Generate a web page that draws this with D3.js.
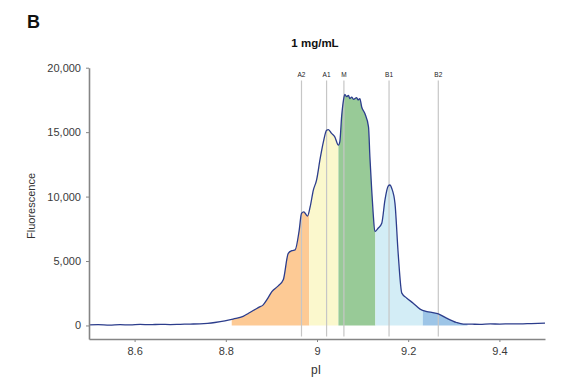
<!DOCTYPE html>
<html>
<head>
<meta charset="utf-8">
<script src="https://cdn.jsdelivr.net/npm/d3@7"></script>
<style>
  body { margin: 0; background: #fff; }
  svg text { font-family: "Liberation Sans", Arial, sans-serif; }
</style>
</head>
<body>
<div id="chart"></div>
<script>
'use strict';

// profile: pI and fluorescence
const pI = [
  8.500, 8.520, 8.545, 8.568, 8.590, 8.612, 8.634, 8.656, 8.678, 8.700,
  8.722, 8.743, 8.760, 8.776, 8.798, 8.816, 8.838, 8.850, 8.860, 8.872,
  8.882, 8.892, 8.901, 8.915, 8.926, 8.937, 8.945, 8.952, 8.961, 8.966,
  8.971, 8.979, 8.985, 8.992, 8.999, 9.007, 9.014, 9.021, 9.025, 9.032,
  9.039, 9.047, 9.050, 9.054, 9.058, 9.061, 9.065, 9.069, 9.072, 9.076,
  9.080, 9.087, 9.090, 9.094, 9.098, 9.105, 9.113, 9.116, 9.120, 9.123,
  9.127, 9.134, 9.142, 9.149, 9.156, 9.160, 9.164, 9.171, 9.178, 9.186,
  9.197, 9.211, 9.226, 9.241, 9.254, 9.266, 9.284, 9.306, 9.321, 9.340,
  9.357, 9.380, 9.401, 9.425, 9.445, 9.470, 9.500
];
const fluorescence = [
    40,   70,   30,   60,   40,   80,   60,   90,   70,   90,
   110,  130,  170,  230,  350,  495,  700,  950, 1160, 1400,
  1600, 2100, 2630, 3070, 3540, 5600, 5800, 5860, 7400, 8700,
  8820, 8490, 9210, 10500, 11280, 12960, 14240, 15150, 15200, 14900,
 14630, 13990, 14240, 16200, 17470, 17930, 17750, 17860, 17600, 17720,
 17550, 17680, 17500, 17600, 16950, 16440, 15400, 13080, 10500, 8800,
  7280, 7540, 7930, 9730, 10810, 10900, 10630, 9470, 5600, 2510,
  2120, 1730, 1270, 1080, 1000,  900,  570,  230,  110,  100,
    90,  120,  110,  130,  120,  150,  180
];

// fractions collected, as pI ranges
const fractions = [
  { from: 8.813, to: 8.983, color: '#fdca95' },
  { from: 8.983, to: 9.047, color: '#fbf8cd' },
  { from: 9.047, to: 9.128, color: '#98ca97' },
  { from: 9.128, to: 9.232, color: '#d3edf6' },
  { from: 9.232, to: 9.330, color: '#9dc5e7' }
];

const markerNames = ['A2', 'A1', 'M', 'B1', 'B2'];
const markerPI = [8.966, 9.021, 9.059, 9.158, 9.266];

const xTicks = [8.6, 8.8, 9, 9.2, 9.4];
const yTicks = [0, 5000, 10000, 15000, 20000];

function drawChart(elementID) {
  const width = 573;
  const height = 388;
  const left = 89;
  const right = 545;
  const top = 67.7;
  const bottom = 339;

  const data = pI.map((p, i) => [p, fluorescence[i]]);

  const scaleX = d3.scaleLinear()
    .domain([8.5, 9.5])
    .range([left, right]);

  const scaleY = d3.scaleLinear()
    .domain([-1050, 20000])
    .range([bottom, top]);

  const svg = d3.select('#' + elementID)
    .append('svg')
    .attr('width', width)
    .attr('height', height);

  // filled fractions under the curve
  const area = d3.area()
    .curve(d3.curveMonotoneX)
    .x(d => scaleX(d[0]))
    .y0(scaleY(0))
    .y1(d => scaleY(d[1]));

  const defs = svg.append('defs');
  fractions.forEach((f, i) => {
    defs.append('clipPath')
      .attr('id', 'frac' + i)
      .append('rect')
      .attr('x', scaleX(f.from))
      .attr('y', 0)
      .attr('width', scaleX(f.to) - scaleX(f.from))
      .attr('height', height);

    svg.append('path')
      .datum(data)
      .attr('d', area)
      .attr('fill', f.color)
      .attr('clip-path', `url(#frac${i})`);
  });

  // marker lines
  const markers = svg.append('g')
    .selectAll('g')
    .data(markerPI)
    .enter()
    .append('g')
    .attr('transform', d => `translate(${scaleX(d)}, 0)`);

  markers.append('line')
    .attr('y1', scaleY(19000))
    .attr('y2', scaleY(-850))
    .attr('stroke', '#c6c6c6')
    .attr('stroke-width', 1.2);

  markers.append('text')
    .attr('y', scaleY(19000) - 4)
    .attr('text-anchor', 'middle')
    .attr('font-size', 6.5)
    .attr('fill', '#222')
    .text((d, i) => markerNames[i]);

  // the trace
  const line = d3.line()
    .curve(d3.curveMonotoneX)
    .x(d => scaleX(d[0]))
    .y(d => scaleY(d[1]));

  svg.append('path')
    .datum(data)
    .attr('d', line)
    .attr('fill', 'none')
    .attr('stroke', '#2c3d8c')
    .attr('stroke-width', 1.3);

  // axes
  const xAxis = d3.axisBottom(scaleX)
    .tickValues(xTicks)
    .tickSizeOuter(0)
    .tickSizeInner(3)
    .tickPadding(5)
    .tickFormat(d => String(d));

  const gx = svg.append('g')
    .attr('transform', `translate(0, ${bottom})`)
    .call(xAxis);

  const yAxis = d3.axisLeft(scaleY)
    .tickValues(yTicks)
    .tickSizeOuter(0)
    .tickSizeInner(3)
    .tickPadding(5)
    .tickFormat(d3.format(','));

  const gy = svg.append('g')
    .attr('transform', `translate(${left}, 0)`)
    .call(yAxis);

  [gx, gy].forEach(g => {
    g.select('.domain').attr('stroke', '#858585').attr('stroke-width', 1.6);
    g.selectAll('.tick line').attr('stroke', '#858585');
    g.selectAll('.tick text')
      .attr('fill', '#3a3a3a')
      .attr('font-size', 11)
      .style('font-family', '"Liberation Sans", Arial, sans-serif');
  });

  // titles
  svg.append('text')
    .attr('x', 27)
    .attr('y', 28)
    .attr('font-size', 18)
    .attr('font-weight', 'bold')
    .attr('fill', '#111')
    .text('B');

  svg.append('text')
    .attr('x', 315)
    .attr('y', 47)
    .attr('text-anchor', 'middle')
    .attr('font-size', 11.5)
    .attr('font-weight', 'bold')
    .attr('fill', '#111')
    .text('1 mg/mL');

  svg.append('text')
    .attr('transform', 'translate(35, 206) rotate(-90)')
    .attr('text-anchor', 'middle')
    .attr('font-size', 11)
    .attr('fill', '#333')
    .text('Fluorescence');

  svg.append('text')
    .attr('x', 316)
    .attr('y', 374)
    .attr('text-anchor', 'middle')
    .attr('font-size', 12)
    .attr('fill', '#333')
    .text('pI');
}

drawChart('chart');
</script>
</body>
</html>
